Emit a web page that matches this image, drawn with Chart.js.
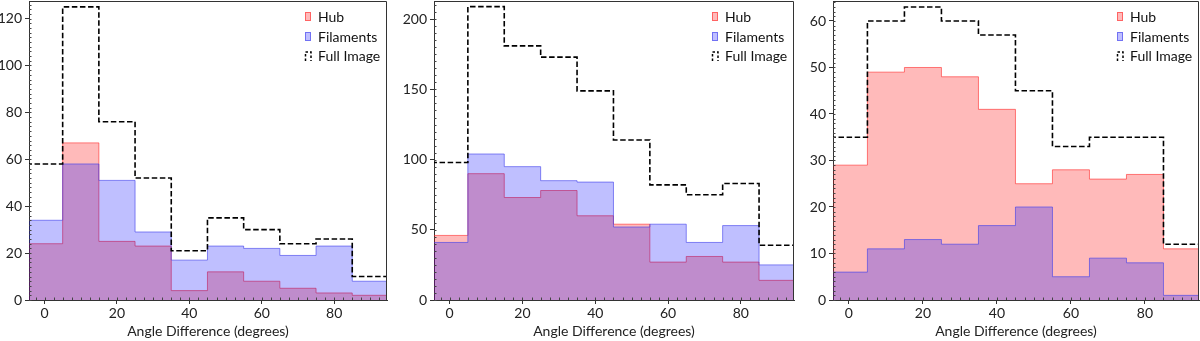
<!DOCTYPE html>
<html><head><meta charset="utf-8">
<script src="https://cdn.jsdelivr.net/npm/chart.js@4.4.1/dist/chart.umd.min.js"></script>
<style>
html,body{margin:0;padding:0;background:#fff;}
#wrap{display:flex;width:1200px;height:341px;overflow:hidden;}
canvas{display:block;}
</style></head><body>
<div id="wrap">
<canvas id="c1" width="400" height="341"></canvas>
<canvas id="c2" width="400" height="341"></canvas>
<canvas id="c3" width="400" height="341"></canvas>
</div>
<script>
// ---- data ----
const binCenters = [0, 10, 20, 30, 40, 50, 60, 70, 80, 90];
const seriesNames = ['Hub', 'Filaments', 'Full Image'];
const xTitle = 'Angle Difference (degrees)';
const xTicks = [0, 20, 40, 60, 80];

const hub1  = [24, 67, 25, 23, 4, 12, 8, 5, 3, 2];
const fil1  = [34, 58, 51, 29, 17, 23, 22, 19, 23, 8];
const full1 = [58, 125, 76, 52, 21, 35, 30, 24, 26, 10];
const yTicks1 = [0, 20, 40, 60, 80, 100, 120];

const hub2  = [46, 90, 73, 78, 60, 54, 27, 31, 27, 14];
const fil2  = [41, 104, 95, 85, 84, 52, 54, 41, 53, 25];
const full2 = [98, 209, 181, 173, 149, 114, 82, 75, 83, 39];
const yTicks2 = [0, 50, 100, 150, 200];

const hub3  = [29, 49, 50, 48, 41, 25, 28, 26, 27, 11];
const fil3  = [6, 11, 13, 12, 16, 20, 5, 9, 8, 1];
const full3 = [35, 60, 63, 60, 57, 45, 33, 35, 35, 12];
const yTicks3 = [0, 10, 20, 30, 40, 50, 60];

// ---- helpers ----
const binW = binCenters[1] - binCenters[0];
function steps(vals) {
  const pts = vals.map((v, i) => ({x: binCenters[i] - binW / 2, y: v}));
  pts.push({x: binCenters[vals.length - 1] + binW / 2, y: vals[vals.length - 1]});
  return pts;
}

const FONT = 'Lato, "DejaVu Sans", sans-serif';
const FSIZE = 14;
const AXC = '#333';
const HUB_FILL = 'rgba(255,0,0,0.27)';
const HUB_EDGE = 'rgba(255,40,40,0.6)';
const FIL_FILL = 'rgba(0,0,255,0.25)';
const FIL_EDGE = 'rgba(60,60,235,0.6)';

const framePlugin = {
  id: 'frame',
  afterDatasetsDraw(chart, args, opts) {
    const {ctx, chartArea: a, scales} = chart;
    ctx.save();
    // frame
    ctx.strokeStyle = AXC; ctx.lineWidth = 1;
    ctx.beginPath();
    ctx.moveTo(a.left, a.top + 0.5); ctx.lineTo(a.right - 0.5, a.top + 0.5);
    ctx.lineTo(a.right - 0.5, a.bottom);
    ctx.stroke();
    // minor ticks
    ctx.strokeStyle = '#444'; ctx.lineWidth = 1;
    const xs = scales.x, ys = scales.y;
    ctx.beginPath();
    for (let v = -5; v <= 100; v += opts.xMinor) {
      if (v < xs.min || v > xs.max) continue;
      const p = Math.round(xs.getPixelForValue(v)) + 0.5;
      ctx.moveTo(p, a.bottom); ctx.lineTo(p, a.bottom - 2.5);
    }
    for (let v = 0; v <= ys.max; v += opts.yMinor) {
      const p = Math.round(ys.getPixelForValue(v)) + 0.5;
      ctx.moveTo(a.left, p); ctx.lineTo(a.left + 2.5, p);
    }
    ctx.stroke();
    // legend
    const tx = a.right - 69;
    const rows = [a.top + 16, a.top + 36, a.top + 55];
    ctx.font = FSIZE + 'px ' + FONT;
    ctx.fillStyle = '#111';
    ctx.textBaseline = 'middle';
    ctx.textAlign = 'left';
    seriesNames.forEach((n, i) => ctx.fillText(n, tx, rows[i]));
    // patches
    const px = tx - 13, pw = 6, ph = 9;
    ctx.fillStyle = HUB_FILL; ctx.fillRect(px, rows[0] - 5, pw, ph);
    ctx.strokeStyle = HUB_EDGE; ctx.strokeRect(px + 0.5, rows[0] - 4.5, pw - 1, ph - 1);
    ctx.fillStyle = FIL_FILL; ctx.fillRect(px, rows[1] - 5, pw, ph);
    ctx.strokeStyle = FIL_EDGE; ctx.strokeRect(px + 0.5, rows[1] - 4.5, pw - 1, ph - 1);
    ctx.strokeStyle = '#000'; ctx.lineWidth = 1.5; ctx.setLineDash([2.5, 2]);
    ctx.beginPath();
    ctx.moveTo(px + 0.5, rows[2] + 5); ctx.lineTo(px + 0.5, rows[2] - 4);
    ctx.lineTo(px + pw, rows[2] - 4); ctx.lineTo(px + pw, rows[2] + 5);
    ctx.stroke();
    ctx.restore();
  }
};

function makeChart(id, hub, fil, full, yTicks, yMax, yWidth, padRight, yMinor) {
  new Chart(document.getElementById(id), {
    type: 'line',
    data: {
      datasets: [
        {label: seriesNames[2], data: steps(full), stepped: 'before', borderColor: '#000', borderWidth: 1.6,
         borderDash: [5.5, 2.6], fill: false, pointRadius: 0, clip: 0},
        {label: seriesNames[1], data: steps(fil), stepped: 'before', borderColor: FIL_EDGE, borderWidth: 1,
         backgroundColor: FIL_FILL, fill: 'origin', pointRadius: 0, clip: 0},
        {label: seriesNames[0], data: steps(hub), stepped: 'before', borderColor: HUB_EDGE, borderWidth: 1,
         backgroundColor: HUB_FILL, fill: 'origin', pointRadius: 0, clip: 0}
      ]
    },
    options: {
      responsive: false, animation: false, events: [],
      layout: {padding: {top: 1, right: padRight, bottom: 0, left: 0}},
      plugins: {legend: {display: false}, tooltip: {enabled: false}, frame: {xMinor: 2.5, yMinor: yMinor}},
      scales: {
        x: {
          type: 'linear', min: -4.3, max: 94.6, offset: false,
          afterBuildTicks: s => { s.ticks = xTicks.map(v => ({value: v})); },
          afterFit: s => { s.height = 41; s.paddingLeft = 0; s.paddingRight = 0; },
          grid: {display: true, drawOnChartArea: false, drawTicks: true, tickLength: 4, color: AXC, tickWidth: 1},
          border: {display: true, color: AXC, width: 1},
          ticks: {font: {family: FONT, size: FSIZE}, color: '#222', padding: 1, maxRotation: 0, autoSkip: false},
          title: {display: true, text: xTitle, font: {family: FONT, size: FSIZE}, color: '#222', padding: {top: 0, bottom: 1}}
        },
        y: {
          type: 'linear', min: 0, max: yMax,
          afterBuildTicks: s => { s.ticks = yTicks.map(v => ({value: v})); },
          afterFit: s => { s.width = yWidth; s.paddingTop = 0; s.paddingBottom = 0; },
          grid: {display: true, drawOnChartArea: false, drawTicks: true, tickLength: 4, color: AXC, tickWidth: 1},
          border: {display: true, color: AXC, width: 1},
          ticks: {font: {family: FONT, size: FSIZE}, color: '#222', padding: 3, autoSkip: false}
        }
      }
    },
    plugins: [framePlugin]
  });
}

makeChart('c1', hub1, fil1, full1, yTicks1, 127.5, 29, 13, 2);
makeChart('c2', hub2, fil2, full2, yTicks2, 213, 34, 6, 5);
makeChart('c3', hub3, fil3, full3, yTicks3, 64.3, 33, 1, 1);
</script>
</body></html>
